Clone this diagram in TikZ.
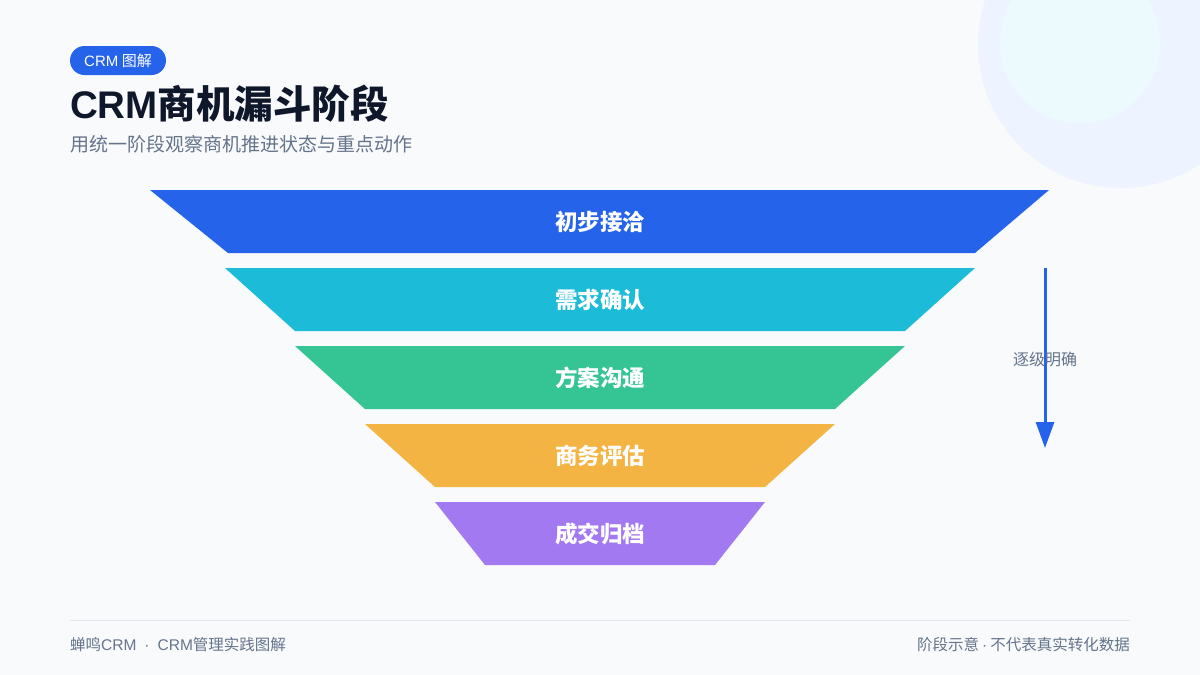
\documentclass[tikz,border=0pt]{standalone}
\usepackage{fontspec}
\setmainfont{Noto Sans CJK SC}
\newfontfamily\latf{Liberation Sans}
\usetikzlibrary{arrows.meta}
\definecolor{bg}{HTML}{F8FAFC}
\definecolor{circA}{HTML}{EEF4FF}
\definecolor{circB}{HTML}{ECFAFE}
\definecolor{cBlue}{HTML}{2563EB}
\definecolor{cCyan}{HTML}{1CBCD8}
\definecolor{cGreen}{HTML}{35C594}
\definecolor{cOrange}{HTML}{F4B443}
\definecolor{cPurple}{HTML}{A379F2}
\definecolor{titlec}{HTML}{0F172A}
\definecolor{mutedc}{HTML}{64748B}
\definecolor{rulec}{HTML}{E2E8F0}
\tikzset{
  stagelabel/.style={text=white, font=\fontsize{22.5}{26}\selectfont\bfseries, anchor=center, inner sep=0pt},
  mutedtext/.style={text=mutedc, inner sep=0pt},
}
\begin{document}
\begin{tikzpicture}[x=1pt,y=-1pt]
\useasboundingbox (0,0) rectangle (1200,675);
\fill[bg] (0,0) rectangle (1200,675);
\begin{scope}
\clip (0,0) rectangle (1200,675);
\fill[circA] (1121,45) circle (143);
\fill[circB] (1080,43) circle (80);
\end{scope}
% header
\node[fill=cBlue, rounded corners=14.5pt, minimum width=96pt, minimum height=29pt, inner sep=0pt, text=white, font=\fontsize{15}{17}\selectfont] (badge) at (118,60.5) {{\latf CRM} 图解};
\node[anchor=west, inner sep=0pt, text=titlec, font=\fontsize{38.5}{42}\selectfont\bfseries] (title) at (70,104) {{\latf CRM}商机漏斗阶段};
\node[anchor=west, mutedtext, font=\fontsize{19}{21}\selectfont] (subtitle) at (70,144) {用统一阶段观察商机推进状态与重点动作};
% funnel
\fill[cBlue] (150,190) -- (1049,190) -- (975,253) -- (228,253) -- cycle;
\node[stagelabel] (s1) at (600,222) {初步接洽};
\fill[cCyan] (225,268) -- (975,268) -- (905,331) -- (295,331) -- cycle;
\node[stagelabel] (s2) at (600,300) {需求确认};
\fill[cGreen] (295,346) -- (905,346) -- (835,409) -- (365,409) -- cycle;
\node[stagelabel] (s3) at (600,378) {方案沟通};
\fill[cOrange] (365,424) -- (835,424) -- (765,487) -- (435,487) -- cycle;
\node[stagelabel] (s4) at (600,456) {商务评估};
\fill[cPurple] (435,502) -- (765,502) -- (715,565) -- (485,565) -- cycle;
\node[stagelabel] (s5) at (600,534) {成交归档};
% arrow
\coordinate (aTop) at (1045,268);
\coordinate (aBot) at (1045,448);
\draw[cBlue, line width=3pt, -{Triangle[width=18pt,length=26pt]}] (aTop) -- (aBot);
\node[mutedtext, font=\fontsize{16}{18}\selectfont] (alabel) at (1045,359) {逐级明确};
% footer
\coordinate (rL) at (70,620);
\coordinate (rR) at (1130,620);
\draw[rulec, line width=1pt] (rL) -- (rR);
\node[anchor=west, mutedtext, font=\fontsize{15.5}{17}\selectfont] (fl) at (70,645) {蝉鸣{\latf CRM\hspace{8pt}·\hspace{8pt}CRM}管理实践图解};
\node[anchor=east, mutedtext, font=\fontsize{15.5}{17}\selectfont] (fr) at (1130,645) {阶段示意{\latf\hspace{3pt}·\hspace{3pt}}不代表真实转化数据};
\end{tikzpicture}
\end{document}
